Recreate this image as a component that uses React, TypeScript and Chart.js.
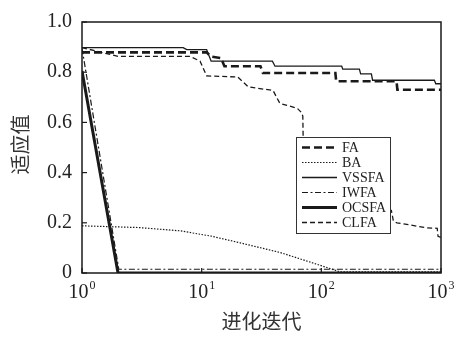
import React, { useEffect, useRef } from "react";
import { Chart, registerables } from "chart.js";

Chart.register(...registerables);

// ---- data ----
const SERIES_NAMES = ["FA", "BA", "VSSFA", "IWFA", "OCSFA", "CLFA"];

const FA_X = [1, 11, 12, 14.5, 15.5, 31, 32.5, 131, 133, 425, 432, 1000];
const FA_Y = [0.879, 0.879, 0.862, 0.856, 0.824, 0.824, 0.797, 0.797, 0.764, 0.764, 0.73, 0.73];

const BA_X = [1, 3, 6.6, 12, 21, 45, 85, 143, 1000];
const BA_Y = [0.188, 0.181, 0.168, 0.147, 0.12, 0.082, 0.04, 0.005, 0.005];

const VSSFA_X = [1, 7, 7.5, 11, 12, 39, 41, 148, 151, 208, 213, 262, 268, 880, 905, 1000];
const VSSFA_Y = [0.898, 0.898, 0.89, 0.89, 0.844, 0.844, 0.824, 0.824, 0.812, 0.812, 0.793, 0.793, 0.768, 0.768, 0.754, 0.754];

const IWFA_X = [1, 2.03, 1000];
const IWFA_Y = [0.895, 0.015, 0.015];

const OCSFA_X = [1, 2, 1000];
const OCSFA_Y = [0.805, 0, 0];

const CLFA_X = [1, 2, 8, 9.7, 11, 20, 24.5, 39.5, 45, 63, 68, 70, 71, 360, 385, 400, 428, 764, 930, 945, 1000];
const CLFA_Y = [0.898, 0.863, 0.863, 0.844, 0.785, 0.781, 0.742, 0.727, 0.676, 0.656, 0.64, 0.625, 0.45, 0.26, 0.249, 0.207, 0.2, 0.18, 0.178, 0.146, 0.142];

const Y_TICKS = [0, 0.2, 0.4, 0.6, 0.8, 1.0];
const X_TICK_EXPONENTS = [0, 1, 2, 3];

const X_TITLE = "进化迭代";
const Y_TITLE = "适应值";

// ---- styles ----
const INK = "#1a1a1a";
const TEXT = "#222";
const SERIF = "'Liberation Serif', 'DejaVu Serif', serif";
const CJK = "'Noto Sans CJK SC', sans-serif";

const STYLES: Record<string, { width: number; dash: number[] }> = {
  FA: { width: 2.6, dash: [8, 4] },
  BA: { width: 1.2, dash: [1.5, 1.5] },
  VSSFA: { width: 1.3, dash: [] },
  IWFA: { width: 1.2, dash: [6, 2.5, 2, 2.5] },
  OCSFA: { width: 3, dash: [] },
  CLFA: { width: 1.3, dash: [5, 3] },
};

const SERIES_DATA: Record<string, [number[], number[]]> = {
  FA: [FA_X, FA_Y],
  BA: [BA_X, BA_Y],
  VSSFA: [VSSFA_X, VSSFA_Y],
  IWFA: [IWFA_X, IWFA_Y],
  OCSFA: [OCSFA_X, OCSFA_Y],
  CLFA: [CLFA_X, CLFA_Y],
};

const decorPlugin = {
  id: "decor",
  afterDatasetsDraw(chart: any) {
    const { ctx, chartArea: a, scales } = chart;
    const xs = scales.x;
    const ys = scales.y;
    ctx.save();

    // frame
    ctx.setLineDash([]);
    ctx.strokeStyle = INK;
    ctx.lineWidth = 1.5;
    ctx.strokeRect(a.left, a.top, a.right - a.left, a.bottom - a.top);

    // inward ticks
    ctx.lineWidth = 1.2;
    for (const v of Y_TICKS) {
      const py = ys.getPixelForValue(v);
      ctx.beginPath();
      ctx.moveTo(a.left, py);
      ctx.lineTo(a.left + 5, py);
      ctx.stroke();
    }
    for (const e of X_TICK_EXPONENTS) {
      const px = xs.getPixelForValue(Math.pow(10, e));
      ctx.beginPath();
      ctx.moveTo(px, a.bottom);
      ctx.lineTo(px, a.bottom - 5);
      ctx.stroke();
    }

    // x tick labels 10^n
    ctx.fillStyle = TEXT;
    ctx.textBaseline = "alphabetic";
    ctx.textAlign = "left";
    for (const e of X_TICK_EXPONENTS) {
      const px = xs.getPixelForValue(Math.pow(10, e));
      ctx.font = `20px ${SERIF}`;
      const wBase = ctx.measureText("10").width;
      ctx.font = `12px ${SERIF}`;
      const wSup = ctx.measureText(String(e)).width;
      const left = px - (wBase + wSup + 1) / 2;
      ctx.font = `20px ${SERIF}`;
      ctx.fillText("10", left, a.bottom + 25);
      ctx.font = `12px ${SERIF}`;
      ctx.fillText(String(e), left + wBase + 1, a.bottom + 16);
    }

    // axis titles
    ctx.font = `20px ${CJK}`;
    ctx.fillStyle = "#333";
    ctx.textAlign = "center";
    ctx.textBaseline = "middle";
    ctx.fillText(X_TITLE, (a.left + a.right) / 2, a.bottom + 48);
    ctx.save();
    ctx.translate(20, (a.top + a.bottom) / 2 - 3);
    ctx.rotate(-Math.PI / 2);
    ctx.fillText(Y_TITLE, 0, 0);
    ctx.restore();

    // legend box
    const bx = a.right - 145;
    const by = a.top + 115;
    const bw = 94;
    const bh = 96;
    ctx.fillStyle = "#fff";
    ctx.fillRect(bx, by, bw, bh);
    ctx.strokeStyle = "#333";
    ctx.lineWidth = 1;
    ctx.setLineDash([]);
    ctx.strokeRect(bx + 0.5, by + 0.5, bw, bh);
    ctx.font = `14px ${SERIF}`;
    ctx.textAlign = "left";
    ctx.textBaseline = "middle";
    chart.data.datasets.forEach((ds: any, i: number) => {
      const cy = by + 10.5 + i * 15;
      ctx.strokeStyle = INK;
      ctx.lineWidth = ds.borderWidth;
      ctx.setLineDash(ds.borderDash || []);
      ctx.beginPath();
      ctx.moveTo(bx + 6, cy);
      ctx.lineTo(bx + 41, cy);
      ctx.stroke();
      ctx.setLineDash([]);
      ctx.fillStyle = TEXT;
      ctx.fillText(ds.label, bx + 46, cy + 1);
    });

    ctx.restore();
  },
};

export default function App() {
  const ref = useRef<HTMLCanvasElement | null>(null);

  useEffect(() => {
    if (!ref.current) return;
    const datasets = SERIES_NAMES.map((name) => {
      const [xs, ys] = SERIES_DATA[name];
      return {
        label: name,
        data: xs.map((x, i) => ({ x, y: ys[i] })),
        borderColor: INK,
        backgroundColor: INK,
        borderWidth: STYLES[name].width,
        borderDash: STYLES[name].dash,
        pointRadius: 0,
        tension: 0,
        fill: false,
      };
    });

    const chart = new Chart(ref.current, {
      type: "line",
      data: { datasets },
      options: {
        responsive: false,
        animation: false,
        layout: { padding: { top: 16, right: 16, left: 0, bottom: 0 } },
        plugins: {
          legend: { display: false },
          tooltip: { enabled: false },
        },
        scales: {
          x: {
            type: "logarithmic",
            min: 1,
            max: 1000,
            grid: { display: false, drawTicks: false },
            border: { display: false },
            ticks: { display: false },
            afterFit: (s: any) => {
              s.height = 65;
            },
          },
          y: {
            type: "linear",
            min: 0,
            max: 1,
            grid: { display: false, drawTicks: false },
            border: { display: false },
            afterBuildTicks: (s: any) => {
              s.ticks = Y_TICKS.map((v) => ({ value: v }));
            },
            ticks: {
              padding: 10,
              color: TEXT,
              font: { family: SERIF, size: 20 },
              callback: (v: any) => (Number(v) === 0 ? "0" : Number(v).toFixed(1)),
            },
            afterFit: (s: any) => {
              s.width = 82;
            },
          },
        },
      } as any,
      plugins: [decorPlugin],
    });
    return () => chart.destroy();
  }, []);

  return (
    <div style={{ position: "absolute", left: 0, top: 0, width: 457, height: 338, background: "#fff" }}>
      <canvas ref={ref} width={457} height={338} />
    </div>
  );
}
